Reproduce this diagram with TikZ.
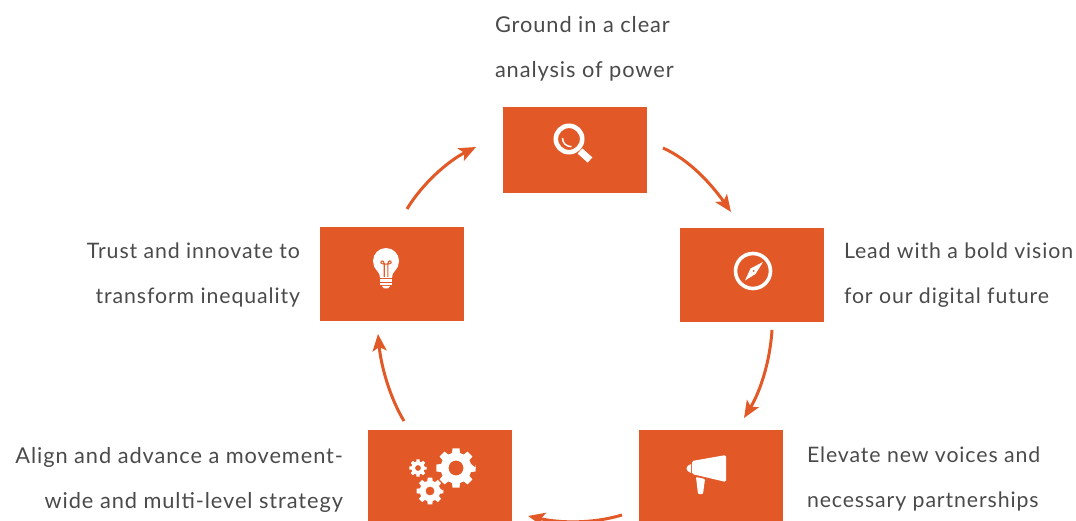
\documentclass[tikz,border=0pt]{standalone}
\usepackage{fontspec}
\setmainfont{Lato}[LetterSpace=4.2]
\usetikzlibrary{arrows.meta,calc}
\definecolor{rust}{HTML}{E25826}
\definecolor{inktext}{HTML}{4A4A4A}
\newcommand{\mygear}[5]{%
  \fill[white,even odd rule] (#1,#2) ++(0:#3)
  \foreach \a in {0,45,...,315}{
    -- ($(#1,#2)+(\a-10:#3)$) -- ($(#1,#2)+(\a+10:#3)$)
    -- ($(#1,#2)+(\a+15:#4)$) -- ($(#1,#2)+(\a+30:#4)$)
  } -- cycle (#1,#2) circle (#5);
}
\tikzset{
  box/.style={fill=rust,draw=none,minimum width=144pt,inner sep=0pt,outer sep=0pt},
  flow/.style={draw=rust,line width=3pt,-{Stealth[length=17pt,width=14pt,inset=4pt]}},
  lbl/.style={text=inktext,font=\fontsize{21.3}{45}\selectfont,inner sep=0pt,outer sep=0pt},
  lblw/.style={lbl,font=\fontsize{21.8}{45}\selectfont},
  iconw/.style={fill=white,draw=none},
}
\begin{document}
\begin{tikzpicture}[x=1pt,y=-1pt]
\useasboundingbox (0,0) rectangle (1076,521);
\clip (0,0) rectangle (1076,521);
% boxes
\node[box,minimum height=86pt] (top) at (575,150) {};
\node[box,minimum height=94pt] (right) at (752,275) {};
\node[box,minimum height=100pt] (br) at (711,480) {};
\node[box,minimum height=100pt] (bl) at (440,480) {};
\node[box,minimum height=94pt] (left) at (392,274) {};
% labels
\node[lblw,anchor=north west,align=left] (t1) at (495,16) {Ground in a clear\\analysis of power};
\node[lbl,anchor=north west,align=left] (t2) at (844,243) {Lead with a bold vision\\for our digital future};
\node[lbl,anchor=north west,align=left] (t3) at (807,447) {Elevate new voices and\\necessary partnerships};
\node[lblw,anchor=north east,align=right] (t4) at (343,447) {Align and advance a movement-\\wide and multi-level strategy};
\node[lbl,anchor=north east,align=right] (t5) at (300,243) {Trust and innovate to\\transform inequality};
% connector ends
\coordinate (a1s) at (663,148); \coordinate (a1e) at (731,212);
\coordinate (a2s) at (772,330); \coordinate (a2e) at (744,418);
\coordinate (a3s) at (622,515); \coordinate (a3e) at (528,516);
\coordinate (a4s) at (404,421); \coordinate (a4e) at (378,334);
\coordinate (a5s) at (407,209); \coordinate (a5e) at (476,147);
\draw[flow] (a1s) .. controls (690,160) and (712,185) .. (a1e);
\draw[flow] (a2s) .. controls (770,362) and (760,392) .. (a2e);
\draw[flow] (a3s) .. controls (592,524) and (560,523) .. (a3e);
\draw[flow] (a4s) .. controls (390,398) and (381,366) .. (a4e);
\draw[flow] (a5s) .. controls (422,184) and (448,161) .. (a5e);
% magnifier
\draw[white,line width=4.6pt] (569,139) circle (13.2);
\draw[white,line width=7pt] (580,151) -- (590,160);
\draw[white,line width=1.5pt] (562.5,138) .. controls (562.5,143) and (566,146.5) .. (571.5,146.7);
% compass
\draw[white,line width=3.6pt] (753,271) circle (17.5);
\fill[white] (763,262) -- (755.5,274) -- (745,280.5) -- (750.5,268.5) -- cycle;
\fill[rust] (753.5,271) circle (1);
% megaphone
\fill[iconw,rounded corners=1.5pt] (692,461) -- (726,455) -- (726,482) -- (692,474) -- cycle;
\fill[iconw] (691,464) .. controls (685,466) and (685,471) .. (691,473) -- cycle;
\fill[iconw,rounded corners=1pt] (696,477) -- (705,479) -- (703,494) -- (698,494) -- cycle;
% gears
\mygear{456}{468}{20}{15.5}{7.5}
\mygear{430}{491}{13.5}{10.3}{4.5}
\mygear{418}{468}{8.8}{6.6}{3}
% bulb
\fill[iconw] (386,261) circle (13);
\fill[iconw] (374,266) .. controls (376,271) and (380,272) .. (380,278) -- (392,278) .. controls (392,272) and (396,271) .. (398,266) -- cycle;
\draw[rust,line width=1.1pt] (384.2,277) -- (384.2,264) (387.8,277) -- (387.8,264)
  (384.2,264) .. controls (384.2,259.5) and (380,260.5) .. (381,263) .. controls (381.5,264.5) and (390.5,264.5) .. (391,263) .. controls (392,260.5) and (387.8,259.5) .. (387.8,264);
\fill[iconw] (380,279.5) rectangle (392,282);
\fill[iconw] (380,283) rectangle (392,285.5);
\fill[iconw] (382,286) -- (390,286) -- (388,288.5) -- (384,288.5) -- cycle;
\end{tikzpicture}
\end{document}
